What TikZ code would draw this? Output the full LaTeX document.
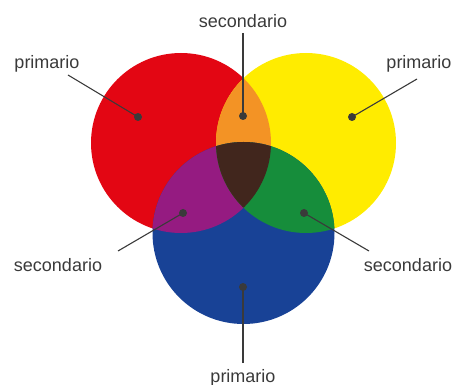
\documentclass[tikz,border=0pt]{standalone}
\usepackage{fontspec}
\setmainfont{Liberation Sans}
\usetikzlibrary{positioning}

\definecolor{primred}{HTML}{E30613}
\definecolor{primyellow}{HTML}{FFEC00}
\definecolor{primblue}{HTML}{184296}
\definecolor{secorange}{HTML}{F39325}
\definecolor{secpurple}{HTML}{951B81}
\definecolor{secgreen}{HTML}{168D3B}
\definecolor{terbrown}{HTML}{41261D}
\definecolor{inkgray}{HTML}{3A3A3A}

\begin{document}
\begin{tikzpicture}[x=1pt,y=-1pt,
    dot/.style={circle,fill=inkgray,inner sep=0,minimum size=8},
    lbl/.style={text=inkgray,font=\fontsize{18}{18}\selectfont,inner sep=0},
    pointer/.style={draw=inkgray,line width=1.1pt}]
  \useasboundingbox (0,0) rectangle (453,385);
  % the three primary discs
  \fill[primred] (181,143) circle (90);
  \fill[primyellow] (306,143) circle (90);
  \fill[primblue] (243.5,233) circle (91);
  % overlaps
  \begin{scope}
    \clip (181,143) circle (90);
    \fill[secorange] (306,143) circle (90);
    \fill[secpurple] (243.5,233) circle (91);
  \end{scope}
  \begin{scope}
    \clip (306,143) circle (90);
    \fill[secgreen] (243.5,233) circle (91);
  \end{scope}
  \begin{scope}
    \clip (181,143) circle (90);
    \clip (306,143) circle (90);
    \fill[terbrown] (243.5,233) circle (91);
  \end{scope}

  % dots
  \node[dot] (red)    at (138,117) {};
  \node[dot] (orange) at (243,116) {};
  \node[dot] (yellow) at (352,117) {};
  \node[dot] (purple) at (183,213) {};
  \node[dot] (green)  at (304,213) {};
  \node[dot] (blue)   at (243,287) {};

  % labels
  \node[lbl] (lred)    at (47,64)   {primario};
  \node[lbl] (lorange) at (243,21)  {secondario};
  \node[lbl] (lyellow) at (419,64)  {primario};
  \node[lbl] (lpurple) at (58,265)  {secondario};
  \node[lbl] (lgreen)  at (408,265) {secondario};
  \node[lbl] (lblue)   at (243,378) {primario};

  \coordinate (ered)    at (68,75);
  \coordinate (eorange) at (243,33);
  \coordinate (eyellow) at (417,79);
  \coordinate (epurple) at (118,251);
  \coordinate (egreen)  at (369,251);
  \coordinate (eblue)   at (243,363);

  \draw[pointer] (ered) -- (red.center);
  \draw[pointer] (eorange) -- (orange.center);
  \draw[pointer] (eyellow) -- (yellow.center);
  \draw[pointer] (epurple) -- (purple.center);
  \draw[pointer] (egreen) -- (green.center);
  \draw[pointer] (eblue) -- (blue.center);
\end{tikzpicture}
\end{document}
